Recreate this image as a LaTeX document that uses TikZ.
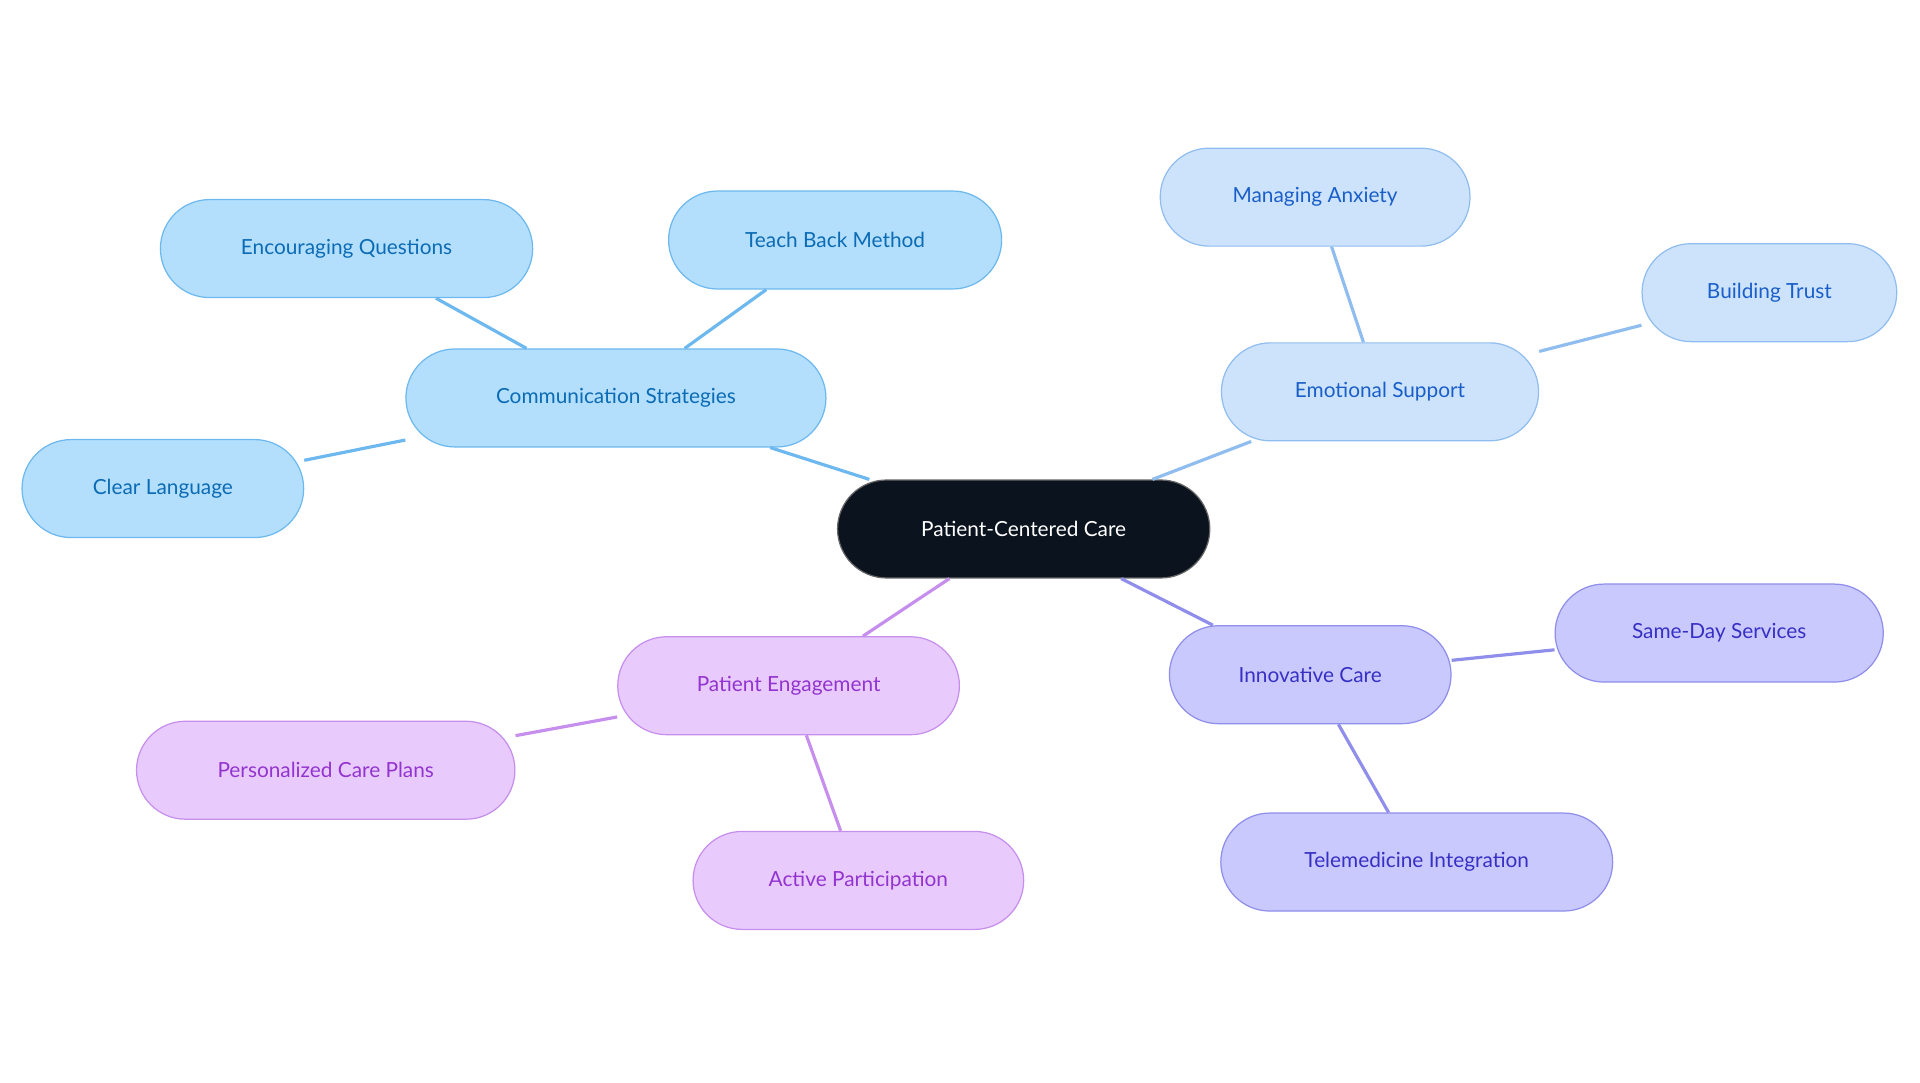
\documentclass[tikz,border=0pt]{standalone}
\usepackage{fontspec}
\setmainfont{Lato}
\begin{document}
\begin{tikzpicture}[x=1pt,y=-1pt,
  pill/.style={draw,line width=1pt,rounded corners=40pt,minimum height=80pt,font=\fontsize{17}{20}\selectfont,inner sep=0pt},
  cs/.style={pill,fill=cfill,draw=cedge,text=ctext},
  es/.style={pill,fill=efill,draw=eedge,text=etext},
  ic/.style={pill,fill=ifill,draw=iedge,text=itext},
  pe/.style={pill,fill=pfill,draw=pedge,text=ptext},
  ln/.style={line width=2.6pt}]
\definecolor{cfill}{HTML}{B3DFFD}\definecolor{cedge}{HTML}{6DB8EE}\definecolor{ctext}{HTML}{0B6BB5}
\definecolor{efill}{HTML}{CDE3FB}\definecolor{eedge}{HTML}{90BDF0}\definecolor{etext}{HTML}{1A5FC9}
\definecolor{ifill}{HTML}{C9C9FD}\definecolor{iedge}{HTML}{8F8EEB}\definecolor{itext}{HTML}{3730C4}
\definecolor{pfill}{HTML}{E8CBFC}\definecolor{pedge}{HTML}{C68EED}\definecolor{ptext}{HTML}{9333D0}
\useasboundingbox (0,0) rectangle (1568,884);
\node[pill,fill=black!90!blue!40!black,draw=black!60,text=white,minimum width=304pt,fill={rgb,255:red,11;green,19;blue,30}] (root) at (836,432) {Patient-Centered Care};
\node[cs,minimum width=343pt] (cs) at (503,325) {Communication Strategies};
\node[cs,minimum width=304pt] (eq) at (283,203) {Encouraging Questions};
\node[cs,minimum width=272pt] (tb) at (682,196) {Teach Back Method};
\node[cs,minimum width=230pt] (cl) at (133,399) {Clear Language};
\node[es,minimum width=259pt] (es) at (1127,320) {Emotional Support};
\node[es,minimum width=253pt] (ma) at (1074,161) {Managing Anxiety};
\node[es,minimum width=208pt] (bt) at (1445,239) {Building Trust};
\node[ic,minimum width=230pt] (ic) at (1070,551) {Innovative Care};
\node[ic,minimum width=268pt] (sd) at (1404,517) {Same-Day Services};
\node[ic,minimum width=320pt] (tm) at (1157,704) {Telemedicine Integration};
\node[pe,minimum width=279pt] (pe) at (644,560) {Patient Engagement};
\node[pe,minimum width=309pt] (pc) at (266,629) {Personalized Care Plans};
\node[pe,minimum width=270pt] (ap) at (701,719) {Active Participation};
\draw[ln,cedge] (root) -- (cs); \draw[ln,cedge] (cs) -- (eq); \draw[ln,cedge] (cs) -- (tb); \draw[ln,cedge] (cs) -- (cl);
\draw[ln,eedge] (root) -- (es); \draw[ln,eedge] (es) -- (ma); \draw[ln,eedge] (es) -- (bt);
\draw[ln,iedge] (root) -- (ic); \draw[ln,iedge] (ic) -- (sd); \draw[ln,iedge] (ic) -- (tm);
\draw[ln,pedge] (root) -- (pe); \draw[ln,pedge] (pe) -- (pc); \draw[ln,pedge] (pe) -- (ap);
\end{tikzpicture}
\end{document}
